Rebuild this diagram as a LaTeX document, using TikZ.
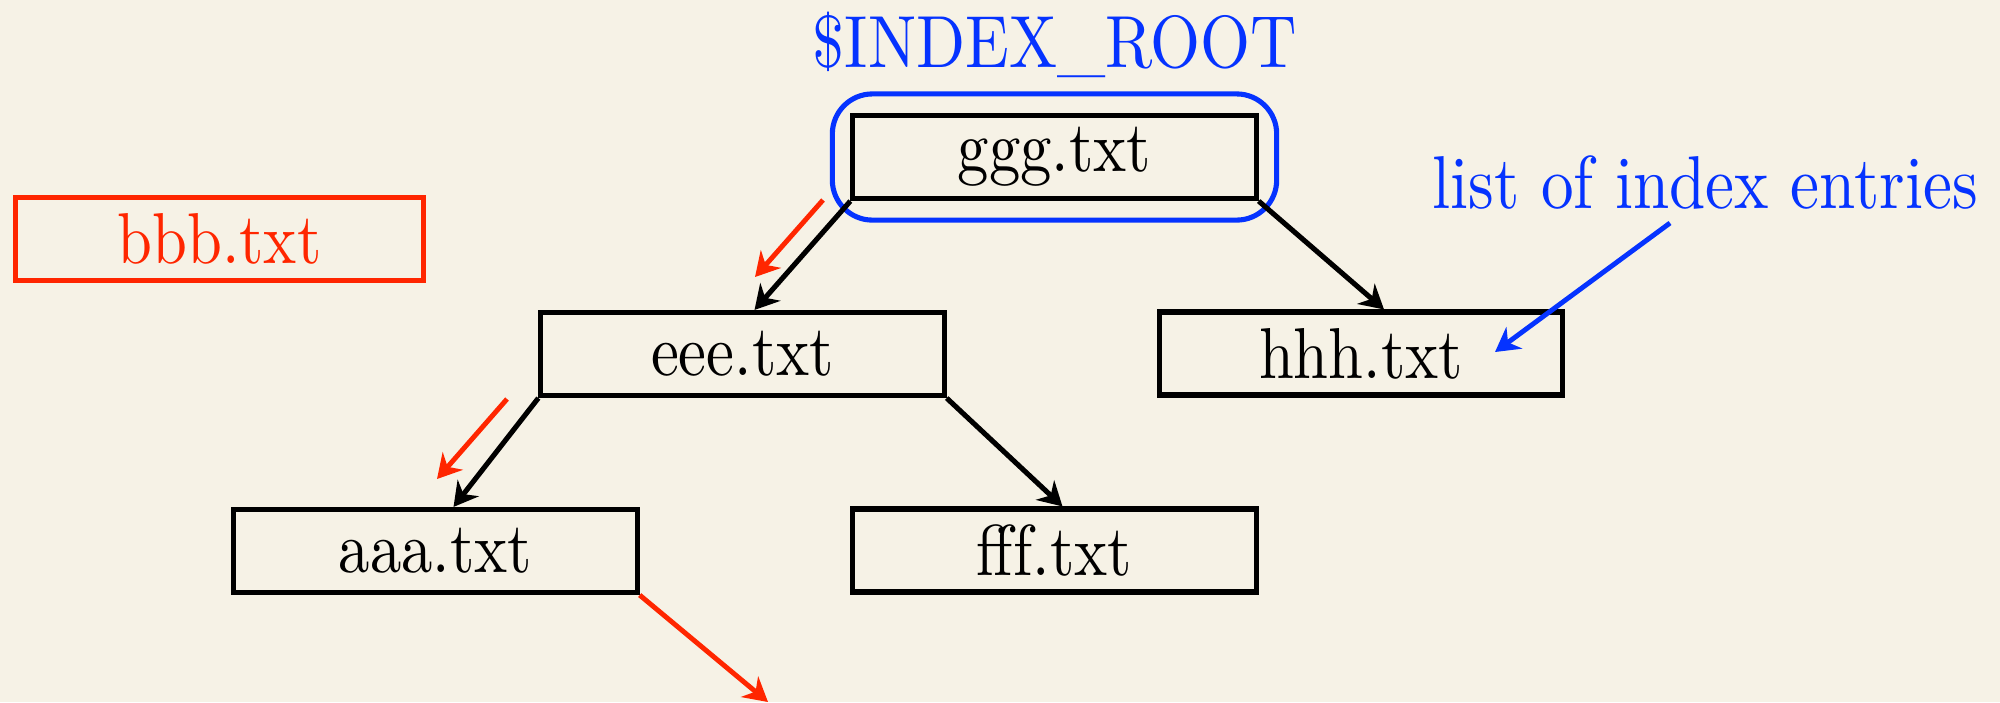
\documentclass[tikz,border=0pt]{standalone}
\usepackage{fontspec}
\setmainfont{lmroman10-regular.otf}[FakeStretch=0.87]
\usetikzlibrary{arrows.meta,fit,calc}
\definecolor{paper}{RGB}{246,242,230}
\definecolor{hot}{RGB}{255,38,0}
\definecolor{cool}{RGB}{5,51,255}
\begin{document}
\begin{tikzpicture}[x=0.01cm,y=-0.01cm,
  file/.style={draw, line width=1.45pt, minimum width=4.03cm, minimum height=0.83cm,
               inner sep=0pt, font=\fontsize{20.5}{24}\selectfont},
  label text/.style={text=cool, inner sep=0pt, anchor=base},
  tip/.style={-{Stealth[length=6.8pt,width=7.6pt,inset=2.2pt]}},
  tree/.style={tip, line width=1.45pt, draw=black},
  walk/.style={tip, line width=1.4pt, draw=hot}]
  % canvas
  \fill[paper] (0,0) rectangle (2000,702);
  \useasboundingbox (0,0) rectangle (2000,702);

  % the files of the tree
  \node[file] (ggg) at (1054.5,157) {ggg.txt};
  \node[file] (eee) at (742.5,354) {eee.txt};
  \node[file] (hhh) at (1361,353.5) {hhh.txt};
  \node[file] (aaa) at (435.5,551) {aaa.txt};
  \node[file] (fff) at (1054.5,550.5) {fff.txt};
  \node[file, draw=hot, text=hot, minimum width=4.07cm] (bbb) at (219.5,239) {bbb.txt};

  % root marker
  \node[draw=cool, line width=1.45pt, rounded corners=0.4cm, fit=(ggg),
        inner xsep=0.18cm, inner ysep=0.19cm] (root) {};
  \node[label text, font=\fontsize{21}{25}\selectfont] (rootname) at (1055,67) {\$INDEX\_ROOT};

  % annotation
  \node[label text, font=\fontsize{21.3}{25}\selectfont] (entries) at (1705,208) {list of index entries};
  \coordinate (entriesfrom) at (1670,223);
  \coordinate (entriesto) at (1495,352);
  \draw[tip, line width=1.4pt, draw=cool] (entriesfrom) -- (entriesto);

  % tree edges
  \draw[tree] (ggg.south west) -- ([xshift=0.12cm]eee.north);
  \draw[tree] (ggg.south east) -- ([xshift=0.23cm]hhh.north);
  \draw[tree] (eee.south west) -- ([xshift=0.18cm]aaa.north);
  \draw[tree] (eee.south east) -- ([xshift=0.08cm]fff.north);

  % search path
  \coordinate (w1s) at (823,200);
  \coordinate (w1e) at (755,277);
  \coordinate (w2s) at (507,399);
  \coordinate (w2e) at (437,479);
  \coordinate (w3e) at (768,702);
  \draw[walk] (w1s) -- (w1e);
  \draw[walk] (w2s) -- (w2e);
  \draw[walk] (aaa.south east) -- (w3e);
\end{tikzpicture}
\end{document}
